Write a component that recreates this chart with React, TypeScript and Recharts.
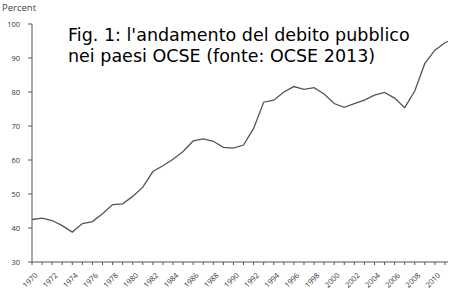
import { CartesianGrid, Line, LineChart, XAxis, YAxis } from "recharts";

const years = [
  1970, 1971, 1972, 1973, 1974, 1975, 1976, 1977, 1978, 1979,
  1980, 1981, 1982, 1983, 1984, 1985, 1986, 1987, 1988, 1989,
  1990, 1991, 1992, 1993, 1994, 1995, 1996, 1997, 1998, 1999,
  2000, 2001, 2002, 2003, 2004, 2005, 2006, 2007, 2008, 2009,
  2010, 2011, 2012,
];

const debt = [
  42.5, 42.9, 42.2, 40.7, 38.8, 41.3, 41.9, 44.2, 46.9, 47.1,
  49.3, 52.0, 56.6, 58.3, 60.2, 62.5, 65.6, 66.2, 65.5, 63.7,
  63.5, 64.4, 69.3, 77.0, 77.6, 80.0, 81.6, 80.8, 81.3, 79.4,
  76.6, 75.5, 76.6, 77.6, 79.1, 79.9, 78.2, 75.4, 80.3, 88.4,
  92.3, 94.5, 95.8,
];

const xTicks = years.filter((y) => y <= 2011);
const yTicks = [30, 40, 50, 60, 70, 80, 90, 100];

const data = years.map((year, i) => ({ year, debt: debt[i] }));

const axisColor = "#555";
const labelFont = "'Open Sans', sans-serif";

function YearTick({ x, y, payload }: any) {
  const yr = payload.value as number;
  if (yr % 2 !== 0) return null;
  return (
    <text
      x={x + 6}
      y={y + 9}
      transform={`rotate(-45, ${x + 6}, ${y + 9})`}
      textAnchor="end"
      fontSize={7.5}
      fontFamily={labelFont}
      fill="#333"
    >
      {yr}
    </text>
  );
}

export default function App() {
  return (
    <div style={{ position: "absolute", left: 0, top: 0, width: 450, height: 296, background: "#fff" }}>
      <div
        style={{
          position: "absolute",
          left: 2,
          top: 1,
          fontFamily: labelFont,
          fontSize: 9.5,
          color: "#444",
        }}
      >
        Percent
      </div>
      <div
        style={{
          position: "absolute",
          left: 68,
          top: 25,
          fontFamily: "'DejaVu Sans', sans-serif",
          fontSize: 17.5,
          lineHeight: "21px",
          color: "#000",
          zIndex: 2,
          whiteSpace: "pre",
        }}
      >
        {"Fig. 1: l'andamento del debito pubblico\nnei paesi OCSE (fonte: OCSE 2013)"}
      </div>
      <LineChart
        width={450}
        height={296}
        data={data}
        margin={{ top: 24, right: 2, left: 0, bottom: 0 }}
      >
        <CartesianGrid stroke="none" />
        <XAxis
          dataKey="year"
          type="number"
          domain={[1970, 2011.3]}
          allowDataOverflow
          ticks={xTicks}
          interval={0}
          height={34}
          tickSize={3}
          tick={<YearTick />}
          axisLine={{ stroke: axisColor }}
          tickLine={{ stroke: axisColor }}
        />
        <YAxis
          domain={[30, 100]}
          ticks={yTicks}
          width={32}
          tickSize={4}
          tickMargin={8}
          axisLine={{ stroke: axisColor }}
          tickLine={{ stroke: axisColor }}
          tick={{ fontSize: 7.5, fontFamily: labelFont, fill: "#333" }}
        />
        <Line
          type="linear"
          dataKey="debt"
          stroke="#555"
          strokeWidth={1.3}
          dot={false}
          isAnimationActive={false}
        />
      </LineChart>
    </div>
  );
}
